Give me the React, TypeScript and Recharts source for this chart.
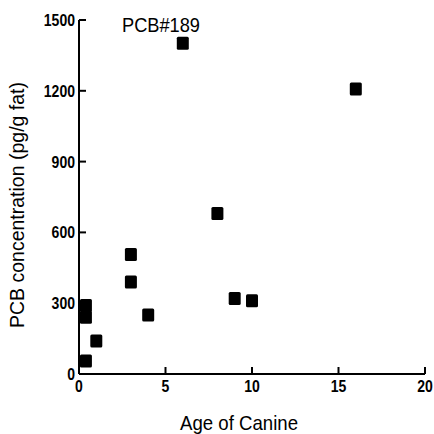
import React from "react";
import { ScatterChart, Scatter, XAxis, YAxis } from "recharts";

// ages of the canines (years) and PCB#189 concentration (pg/g fat)
const ages = [0.4, 0.4, 0.4, 1, 3, 3, 4, 6, 8, 9, 10, 16];
const concentrations = [290, 240, 55, 140, 506, 390, 250, 1402, 680, 320, 310, 1208];

const xTicks = [0, 5, 10, 15, 20];
const yTicks = [0, 300, 600, 900, 1200, 1500];

const FONT = "'Liberation Sans', Arial, sans-serif";
// the original uses a condensed face; squeeze the regular one to match
const SQUEEZE = 0.85;
const TICK_SIZE = 17;

const data = ages.map((x, i) => ({ x, y: concentrations[i] }));

const SquareDot = (props: any) => {
    const { cx, cy } = props;
    return <rect x={cx - 6} y={cy - 6.5} width={12} height={13} rx={1.5} fill="#000" />;
};

const tickWidth = (s: string) => s.length * 0.556 * 16.5 * SQUEEZE;

const XTick = (props: any) => {
    const { x, y, payload } = props;
    const s = String(payload.value);
    return (
        <text x={x} y={y} dy="0.71em" textAnchor="middle" fontFamily={FONT} fontSize={TICK_SIZE}
            fontWeight="bold" fill="#000" textLength={tickWidth(s)} lengthAdjust="spacingAndGlyphs">
            {s}
        </text>
    );
};

const YTick = (props: any) => {
    const { x, y, payload } = props;
    const s = String(payload.value);
    return (
        <text x={x} y={y} dy="0.355em" textAnchor="end" fontFamily={FONT} fontSize={TICK_SIZE}
            fontWeight="bold" fill="#000" textLength={tickWidth(s)} lengthAdjust="spacingAndGlyphs">
            {s}
        </text>
    );
};

const XLabel = (props: any) => {
    const vb = props.viewBox;
    return (
        <text x={vb.x + vb.width / 2 - 13} y={vb.y + vb.height - 4} textAnchor="middle"
            fontFamily={FONT} fontSize={21} fill="#000" textLength={118} lengthAdjust="spacingAndGlyphs">
            Age of Canine
        </text>
    );
};

const YLabel = (props: any) => {
    const vb = props.viewBox;
    const cx = vb.x + 16.5;
    const cy = vb.y + vb.height / 2 + 8;
    return (
        <text x={cx} y={cy} transform={`rotate(-90, ${cx}, ${cy})`} textAnchor="middle" dy="0.355em"
            fontFamily={FONT} fontSize={21} fill="#000" textLength={246} lengthAdjust="spacingAndGlyphs">
            PCB concentration (pg/g fat)
        </text>
    );
};

const App = () => {
    return (
        <div style={{ position: "absolute", left: 0, top: 0, background: "#fff" }}>
            <ScatterChart
                width={434}
                height={434}
                margin={{ top: 20, right: 9, bottom: 0, left: 0 }}
            >
                <XAxis
                    type="number"
                    dataKey="x"
                    domain={[0, 20]}
                    ticks={xTicks}
                    height={60}
                    tickSize={-7}
                    tickMargin={13}
                    axisLine={{ stroke: "#000", strokeWidth: 2 }}
                    tickLine={{ stroke: "#000", strokeWidth: 2 }}
                    tick={<XTick />}
                    label={<XLabel />}
                />
                <YAxis
                    type="number"
                    dataKey="y"
                    domain={[0, 1500]}
                    ticks={yTicks}
                    width={79}
                    tickSize={-7}
                    tickMargin={11}
                    axisLine={{ stroke: "#000", strokeWidth: 2 }}
                    tickLine={{ stroke: "#000", strokeWidth: 2 }}
                    tick={<YTick />}
                    label={<YLabel />}
                />
                <Scatter data={data} shape={SquareDot} isAnimationActive={false} />
                <text x={161} y={32} textAnchor="middle" fontFamily={FONT} fontSize={21} fill="#000"
                    textLength={78} lengthAdjust="spacingAndGlyphs">
                    PCB#189
                </text>
            </ScatterChart>
        </div>
    );
};

export default App;
